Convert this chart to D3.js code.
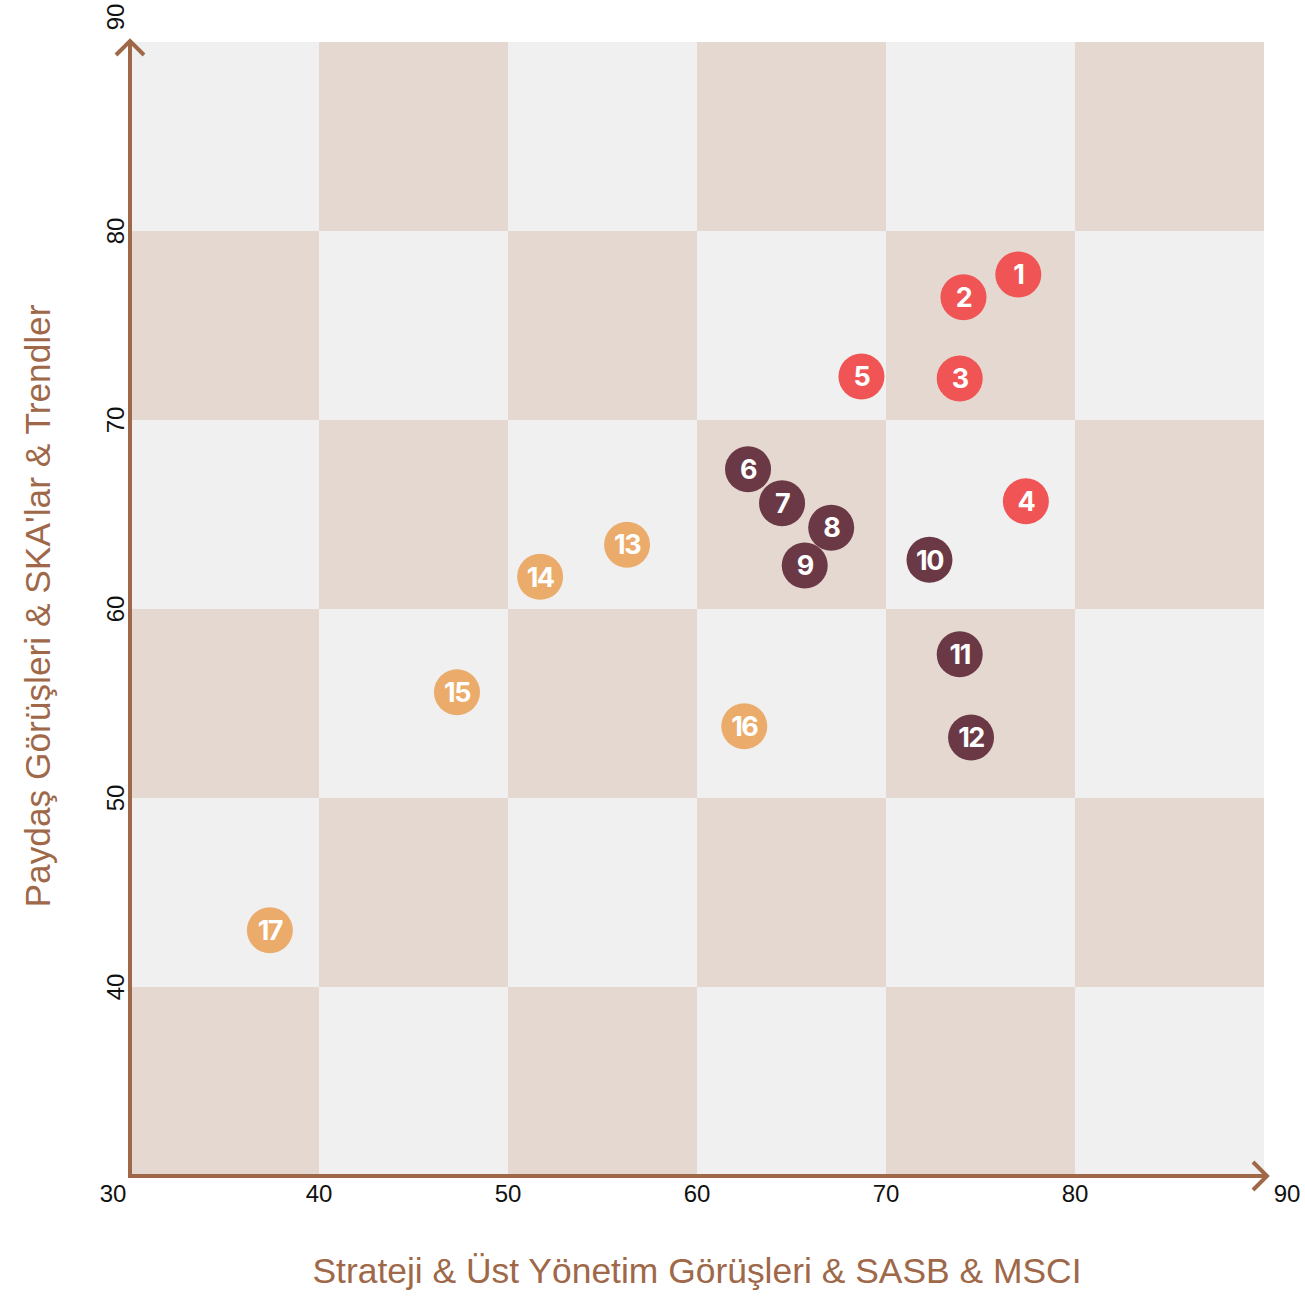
<!DOCTYPE html>
<html><head><meta charset="utf-8">
<script src="https://cdn.jsdelivr.net/npm/d3@7"></script>
<style>body{margin:0;background:#fff}svg{display:block}</style>
</head><body>
<script>
const ids = ["1","2","3","4","5","6","7","8","9","10","11","12","13","14","15","16","17"];
const xVals = [77.0,74.1,73.9,77.4,68.7,62.7,64.5,67.1,65.7,72.3,73.9,74.5,56.3,51.7,47.3,62.5,37.4];
const yVals = [77.7,76.5,72.2,65.7,72.3,67.4,65.6,64.3,62.3,62.6,57.6,53.2,63.4,61.7,55.6,53.8,43.0];
const groups = ["a","a","a","a","a","b","b","b","b","b","b","b","c","c","c","c","c"];
const groupNames = ["a","b","c"];
const groupColors = ["#f05454","#6b3946","#ebab6b"];
const xTicks = [30,40,50,60,70,80,90];
const yTicks = [40,50,60,70,80,90];
const xTitle = "Strateji & Üst Yönetim Görüşleri & SASB & MSCI";
const yTitle = "Paydaş Görüşleri & SKA'lar & Trendler";

const W = 1305, H = 1297;
const svg = d3.select("body").append("svg").attr("width", W).attr("height", H);
const x = d3.scaleLinear().domain([30,90]).range([130,1264]);
const y = d3.scaleLinear().domain([30,90]).range([1176,42]);
const color = d3.scaleOrdinal().domain(groupNames).range(groupColors);
const brown = "#9e6849";
const font = "'Liberation Sans', Arial, sans-serif";
const titleFont = "'Liberation Sans Narrow', 'Liberation Sans', sans-serif";
const numFont = "Inter, 'Liberation Sans', sans-serif";

// checkerboard
const cells = [];
for (let i = 0; i < 6; i++) for (let j = 0; j < 6; j++) cells.push({i, j});
svg.append("g").selectAll("rect").data(cells).join("rect")
  .attr("x", d => x(30 + d.i*10))
  .attr("y", d => y(40 + d.j*10))
  .attr("width", d => x(40 + d.i*10) - x(30 + d.i*10))
  .attr("height", d => y(30 + d.j*10) - y(40 + d.j*10))
  .attr("fill", d => ((d.i + d.j) % 2 === 0) ? "#e5d8d0" : "#f0f0f0");

// axes
const ax = svg.append("g").attr("stroke", brown).attr("stroke-width", 4).attr("fill", "none");
ax.append("line").attr("x1", x(30)).attr("y1", y(30)+2).attr("x2", x(30)).attr("y2", y(90)-2);
ax.append("line").attr("x1", x(30)-2).attr("y1", y(30)).attr("x2", x(90)+2).attr("y2", y(30));
ax.append("path").attr("d", `M${x(30)-14},${y(90)+13} L${x(30)},${y(90)-1} L${x(30)+14},${y(90)+13}`);
ax.append("path").attr("d", `M${x(90)-11},${y(30)-14} L${x(90)+3},${y(30)} L${x(90)-11},${y(30)+14}`);

// x tick labels
svg.append("g").selectAll("text").data(xTicks).join("text")
  .attr("x", d => d === 30 ? x(d) - 17 : d === 90 ? x(d) + 23 : x(d))
  .attr("y", 1202)
  .attr("text-anchor", "middle")
  .attr("font-family", font).attr("font-size", 24).attr("fill", "#111")
  .text(d => d);

// y tick labels
svg.append("g").selectAll("text").data(yTicks).join("text")
  .attr("transform", d => `translate(124,${d === 90 ? 17 : y(d)}) rotate(-90)`)
  .attr("text-anchor", "middle")
  .attr("font-family", font).attr("font-size", 24).attr("fill", "#111")
  .text(d => d);

// titles
svg.append("text").attr("x", 697).attr("y", 1283).attr("text-anchor", "middle")
  .attr("font-family", titleFont).attr("font-size", 35).attr("fill", brown)
  .attr("textLength", 769).attr("lengthAdjust", "spacingAndGlyphs")
  .text(xTitle);
svg.append("text").attr("transform", "translate(50,606) rotate(-90)").attr("text-anchor", "middle")
  .attr("font-family", titleFont).attr("font-size", 35).attr("fill", brown)
  .attr("textLength", 603).attr("lengthAdjust", "spacingAndGlyphs")
  .text(yTitle);

// points
const pts = ids.map((id, k) => ({id, x: xVals[k], y: yVals[k], g: groups[k]}));
const pg = svg.append("g").selectAll("g").data(pts).join("g")
  .attr("transform", d => `translate(${x(d.x)},${y(d.y)})`);
pg.append("circle").attr("r", 23).attr("fill", d => color(d.g));
pg.append("text").attr("text-anchor", "middle").attr("dy", "0.36em")
  .attr("font-family", numFont).attr("font-weight", 700).attr("font-size", 27)
  .attr("letter-spacing", -1.5)
  .attr("fill", "#fff").text(d => d.id);
</script>
</body></html>
